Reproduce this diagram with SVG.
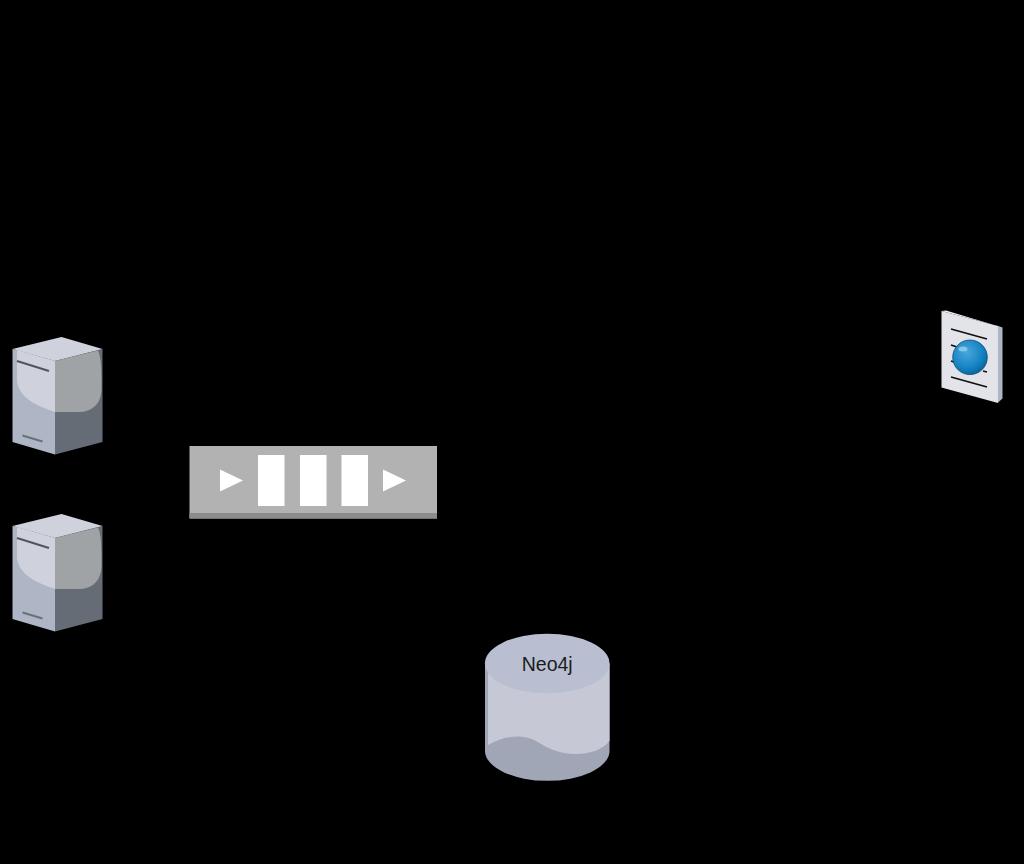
<svg xmlns="http://www.w3.org/2000/svg" width="1024" height="864" viewBox="0 0 1024 864">
<style>
.top{fill:#cfd2dd}.lf{fill:#aeb6c6}.lfu{fill:#cfd2dd}.rf{fill:#666c76}.rfu{fill:#a0a3a5}.slot{stroke:#50545c;stroke-width:2;fill:none}.slot2{stroke:#6a6f78;stroke-width:2;fill:none}
.doc{stroke:#111;stroke-width:1.800;fill:none}.wh{fill:#fff}
</style>
<defs>
<radialGradient id="ball" cx="0.4" cy="0.35" r="0.7"><stop offset="0" stop-color="#4aa8dc"/><stop offset="0.7" stop-color="#1280c0"/><stop offset="1" stop-color="#0b5f94"/></radialGradient>
<g id="server">
<path class="lf" d="M12.500 349L55 361V454.500L12.500 442Z"/>
<path class="rf" d="M55 361L102.500 349V442L55 454.500Z"/>
<path class="top" d="M12.500 349L61.500 337L102.500 349L55 361Z"/>
<path class="lfu" d="M17 350L55 361V412C37 406 19 398 17 381Z"/>
<path class="rfu" d="M55 361L98 350.500C101 358 101.500 365 101.500 388C101.500 404 92 412 78 412H55Z"/>
<path class="slot" d="M17 361L49 371"/>
<path class="slot2" d="M22.500 435.500L42.500 441.500"/>
</g>
</defs>
<rect width="1024" height="864" fill="#000"/>
<g id="connectors"/>
<g id="server-1"><use href="#server"/></g>
<g id="server-2"><use href="#server" y="177"/></g>
<g id="queue">
<rect x="189.500" y="446" width="247.500" height="72.500" fill="#b2b2b2"/>
<rect x="189.500" y="513" width="247.500" height="5.500" fill="#8c8c8c"/>
<path class="wh" d="M220 469.500L243 480.500L220 491.500Z"/>
<rect class="wh" x="258" y="455" width="26.500" height="51"/>
<rect class="wh" x="300" y="455" width="26.500" height="51"/>
<rect class="wh" x="341.500" y="455" width="26.500" height="51"/>
<path class="wh" d="M383 469.500L406 480.500L383 491.500Z"/>
</g>
<g id="neo4j">
<path d="M485 663.500V752A62.300 30 0 0 0 609.500 752V663.500Z" fill="#a0a6b6"/>
<path d="M488 663.500V745C496 741 505 736.500 518 736.500C540 736.500 543 753 575 754C590 754 602 750 609.500 741V663.500Z" fill="#c6c9d5"/>
<ellipse cx="547.200" cy="663.500" rx="62.300" ry="29.800" fill="#b9bed0"/>
<text x="547.200" y="671" text-anchor="middle" font-family="'Liberation Sans',Arial,sans-serif" font-size="19.500" fill="#1a1c22">Neo4j</text>
</g>
<g id="document">
<path d="M998 326L1002.500 327.500V398.500L998 402.500Z" fill="#aeb6c6"/>
<path d="M941.500 311L998 326V403L941.500 387.500Z" fill="#e2e4ea"/>
<path d="M941.500 311L946 310.500L1002.500 327.500L998 326Z" fill="#eceef2"/>
<path class="doc" d="M951 329L987 339M951 345L957 347M951 361L957 363M983 371L987 372M951 377L987 387"/>
<circle cx="970" cy="357.300" r="17.300" fill="url(#ball)" stroke="#0d4f78" stroke-width="0.800"/>
<ellipse cx="963" cy="349" rx="4.500" ry="2.500" fill="#9fd0ec" opacity="0.800"/>
</g>
</svg>
